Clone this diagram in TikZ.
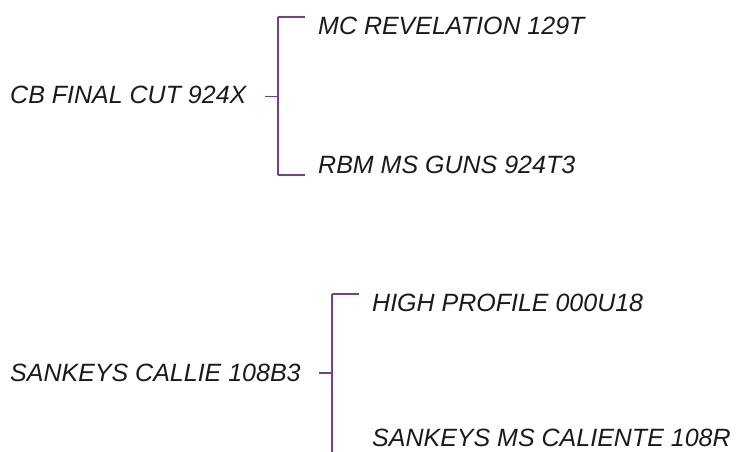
\documentclass[tikz,border=0pt]{standalone}
\usepackage{fontspec}
\setmainfont{Liberation Sans}
\definecolor{brk}{HTML}{7A3D8C}
\definecolor{txt}{HTML}{1A1A1A}
\begin{document}
\begin{tikzpicture}[x=1pt,y=-1pt,
  lbl/.style={inner sep=0pt,anchor=base west,text=txt,font=\fontsize{25}{28}\selectfont\itshape},
  vline/.style={draw=brk,line width=2.2pt},
  hline/.style={draw=brk,line width=1.4pt}]
\path[use as bounding box] (0,0) rectangle (736,452);
\clip (0,0) rectangle (736,452);
% group 1
\node[lbl] (r1) at (10,103) {CB FINAL CUT 924X};
\node[lbl] (a1) at (318,35) {MC REVELATION 129T};
\node[lbl] (b1) at (318,173) {RBM MS GUNS 924T3};
\coordinate (s1) at (265,96.5);
\coordinate (j1) at (278,96.5);
\coordinate (t1) at (278,17);
\coordinate (u1) at (278,175);
\coordinate (te1) at (305,17);
\coordinate (ue1) at (305,175);
\draw[hline] (s1) -- (j1);
\draw[vline] (t1) -- (u1);
\draw[hline] (t1) -- (te1);
\draw[hline] (u1) -- (ue1);
% group 2
\node[lbl] (r2) at (10,381) {SANKEYS CALLIE 108B3};
\node[lbl] (a2) at (372,311) {HIGH PROFILE 000U18};
\node[lbl] (b2) at (372,446) {SANKEYS MS CALIENTE 108R};
\coordinate (s2) at (319,373);
\coordinate (j2) at (332,373);
\coordinate (t2) at (332,294);
\coordinate (u2) at (332,455);
\coordinate (te2) at (359,294);
\coordinate (ue2) at (359,455);
\draw[hline] (s2) -- (j2);
\draw[vline] (t2) -- (u2);
\draw[hline] (t2) -- (te2);
\draw[hline] (u2) -- (ue2);
\end{tikzpicture}
\end{document}
